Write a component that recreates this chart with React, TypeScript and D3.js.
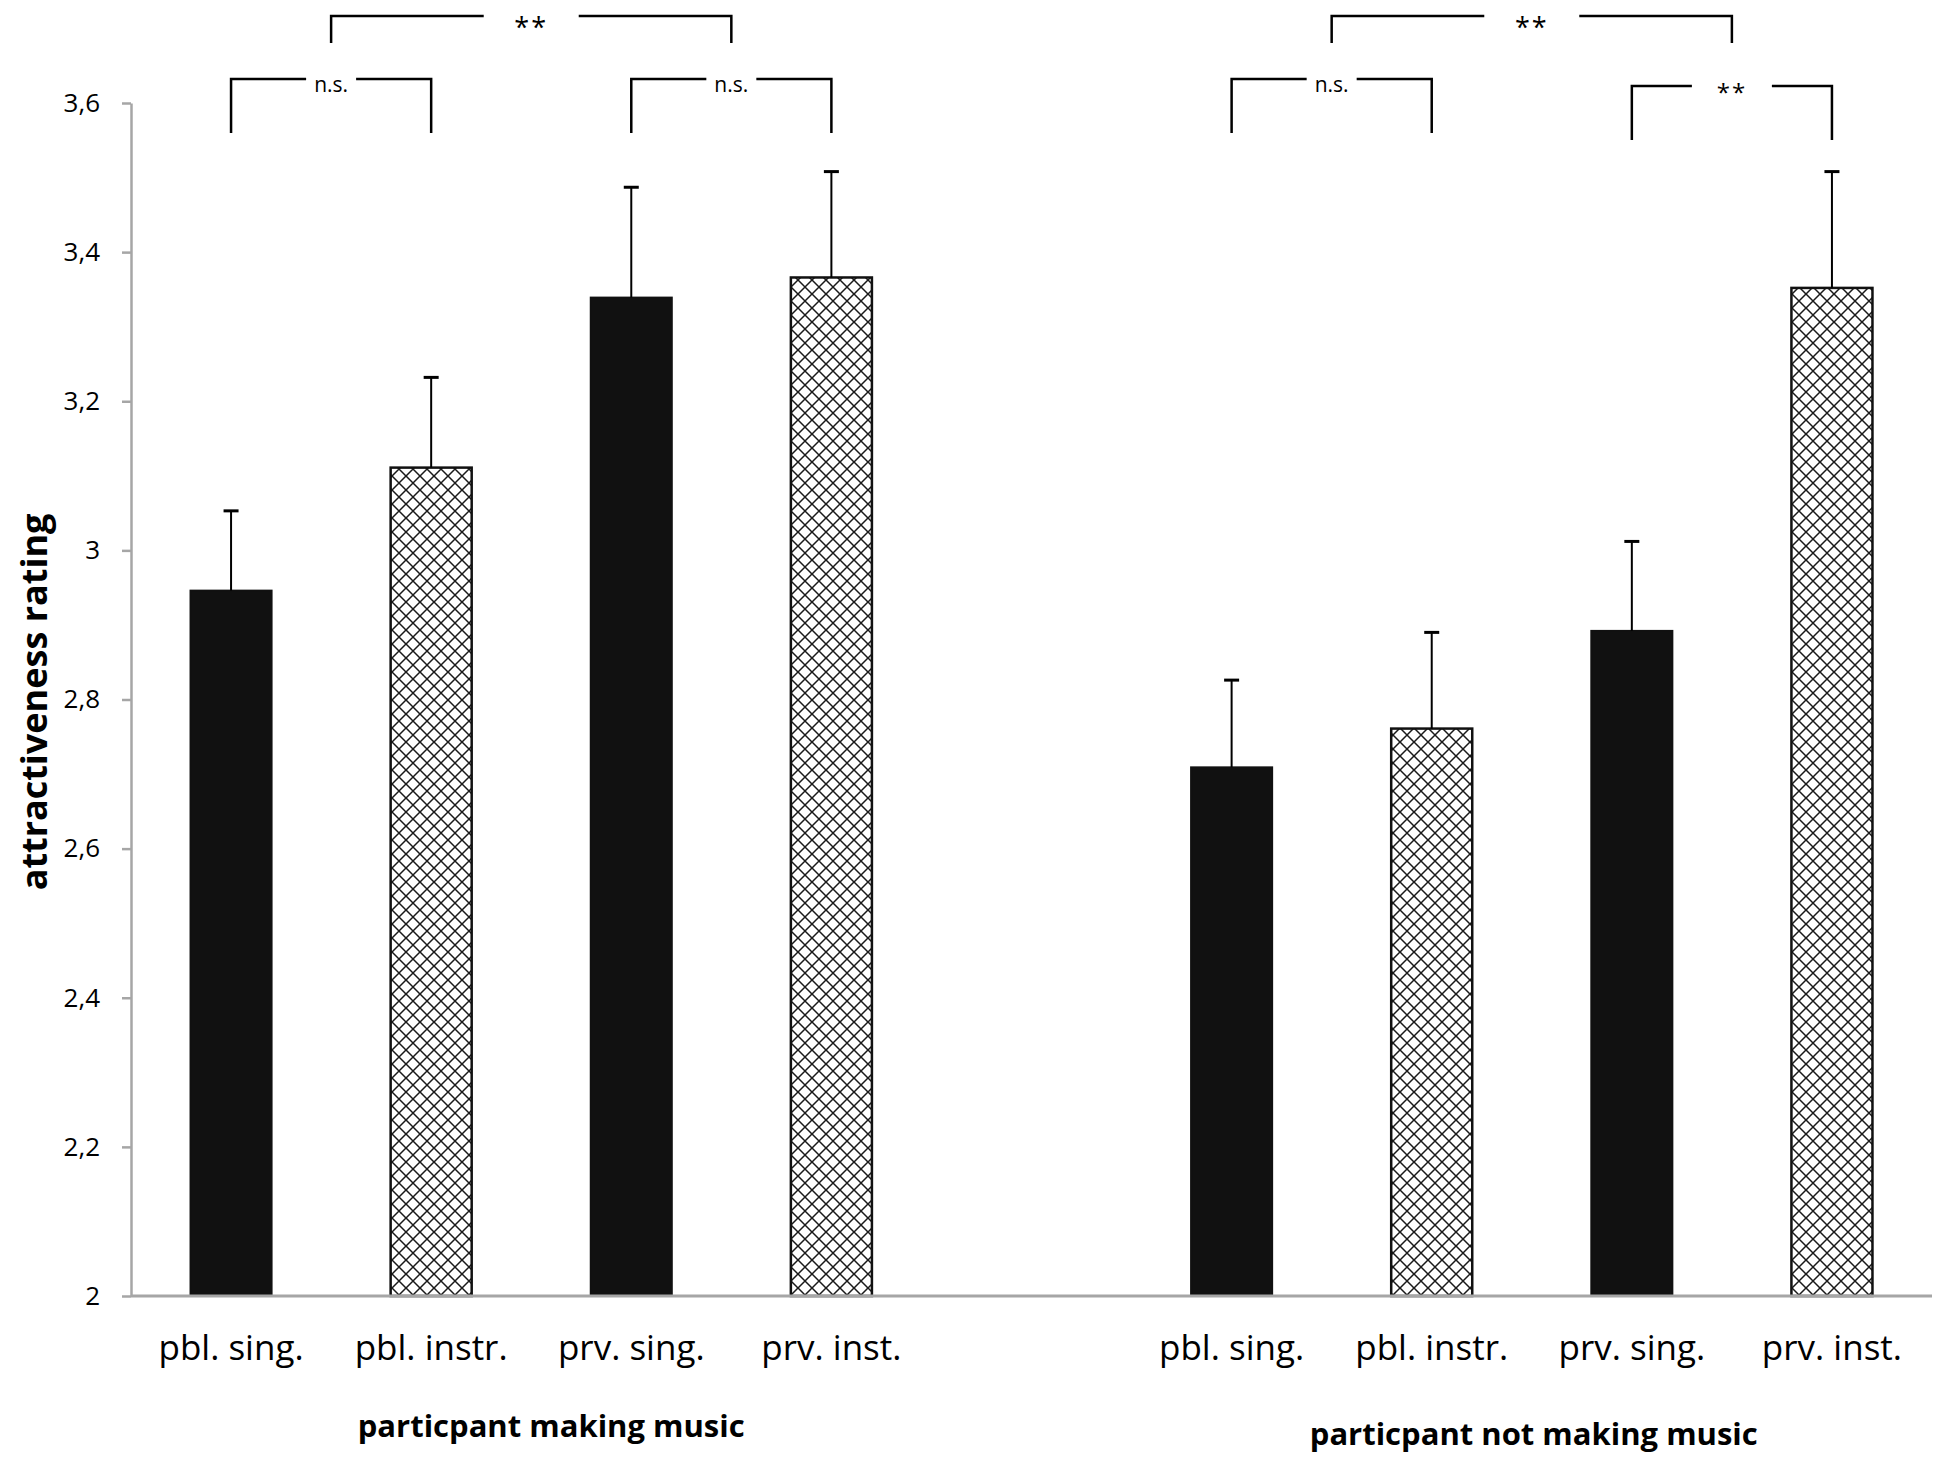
import React, { useEffect, useRef } from 'react';
import * as d3 from 'd3';

const groups = ['particpant making music', 'particpant not making music'];
const categories = ['pbl. sing.', 'pbl. instr.', 'prv. sing.', 'prv. inst.'];
const hatched = [false, true, false, true];

// mean rating per category
const meansMaking = [2.946, 3.111, 3.339, 3.366];
const meansNotMaking = [2.709, 2.761, 2.892, 3.352];

// upper error bar length
const errMaking = [0.107, 0.121, 0.148, 0.142];
const errNotMaking = [0.117, 0.129, 0.12, 0.156];

const yTicks = [2, 2.2, 2.4, 2.6, 2.8, 3, 3.2, 3.4, 3.6];

// significance brackets (a/b are category positions, .5 = between two)
const comparisons = [
  { group: 0, a: 0, b: 1, label: 'n.s.', level: 1 },
  { group: 0, a: 2, b: 3, label: 'n.s.', level: 1 },
  { group: 0, a: 0.5, b: 2.5, label: '**', level: 2 },
  { group: 1, a: 0, b: 1, label: 'n.s.', level: 1 },
  { group: 1, a: 2, b: 3, label: '**', level: 1 },
  { group: 1, a: 0.5, b: 2.5, label: '**', level: 2 },
];

const WIDTH = 1943;
const HEIGHT = 1465;
const margin = { top: 103, right: 11, bottom: 169, left: 131 };
const FONT = "'Open Sans', 'Noto Sans', sans-serif";
const HATCH = 14;

export default function App() {
  const svgRef = useRef<SVGSVGElement>(null);

  useEffect(() => {
    if (!svgRef.current) return;
    const svg = d3.select(svgRef.current);
    svg.selectAll('*').remove();

    const innerBottom = HEIGHT - margin.bottom;
    const innerRight = WIDTH - margin.right;

    // one slot per bar plus an empty slot between the two groups
    const slots: string[] = [];
    groups.forEach((g, gi) => {
      if (gi > 0) slots.push('gap');
      categories.forEach((c, ci) => slots.push(`${gi}-${ci}`));
    });

    const x = d3.scaleBand().domain(slots).range([margin.left, innerRight]).padding(0);
    const y = d3.scaleLinear().domain([2, 3.6]).range([innerBottom, margin.top]);
    const barW = x.bandwidth() * 0.405;
    const center = (gi: number, ci: number) => (x(`${gi}-${ci}`) || 0) + x.bandwidth() / 2;

    const rows = groups.flatMap((g, gi) =>
      categories.map((c, ci) => ({
        gi,
        ci,
        label: c,
        mean: gi === 0 ? meansMaking[ci] : meansNotMaking[ci],
        err: gi === 0 ? errMaking[ci] : errNotMaking[ci],
        hatch: hatched[ci],
      }))
    );

    // hatch pattern
    const defs = svg.append('defs');
    const pat = defs
      .append('pattern')
      .attr('id', 'diamond')
      .attr('patternUnits', 'userSpaceOnUse')
      .attr('width', HATCH)
      .attr('height', HATCH);
    pat.append('rect').attr('width', HATCH).attr('height', HATCH).attr('fill', '#fff');
    pat
      .append('path')
      .attr('d', `M-1,-1L${HATCH + 1},${HATCH + 1}M${HATCH + 1},-1L-1,${HATCH + 1}`)
      .attr('stroke', '#1a1a1a')
      .attr('stroke-width', 1.5)
      .attr('fill', 'none');

    // y axis
    const yAxis = svg
      .append('g')
      .attr('transform', `translate(${margin.left},0)`)
      .call(
        d3
          .axisLeft(y)
          .tickValues(yTicks)
          .tickSize(9)
          .tickSizeOuter(0)
          .tickPadding(22)
          .tickFormat((d) => String(+(+d).toFixed(1)).replace('.', ','))
      );
    yAxis.select('.domain').attr('stroke', '#a6a6a6').attr('stroke-width', 2.5);
    yAxis.selectAll('.tick line').attr('stroke', '#a6a6a6').attr('stroke-width', 2.5);
    yAxis
      .selectAll('.tick text')
      .attr('fill', '#000')
      .style('font-family', FONT)
      .style('font-size', '26px');

    // bars
    svg
      .append('g')
      .selectAll('rect')
      .data(rows)
      .enter()
      .append('rect')
      .attr('x', (d) => center(d.gi, d.ci) - barW / 2)
      .attr('width', barW)
      .attr('y', (d) => y(d.mean))
      .attr('height', (d) => y(2) - y(d.mean))
      .attr('fill', (d) => (d.hatch ? 'url(#diamond)' : '#111'))
      .attr('stroke', '#111')
      .attr('stroke-width', (d) => (d.hatch ? 2.5 : 2));

    // error bars
    const eb = svg.append('g').attr('stroke', '#000');
    eb.selectAll('line.v')
      .data(rows)
      .enter()
      .append('line')
      .attr('class', 'v')
      .attr('x1', (d) => center(d.gi, d.ci))
      .attr('x2', (d) => center(d.gi, d.ci))
      .attr('y1', (d) => y(d.mean))
      .attr('y2', (d) => y(d.mean + d.err))
      .attr('stroke-width', 2);
    eb.selectAll('line.cap')
      .data(rows)
      .enter()
      .append('line')
      .attr('class', 'cap')
      .attr('x1', (d) => center(d.gi, d.ci) - 7.5)
      .attr('x2', (d) => center(d.gi, d.ci) + 7.5)
      .attr('y1', (d) => y(d.mean + d.err))
      .attr('y2', (d) => y(d.mean + d.err))
      .attr('stroke-width', 3);

    // x axis line
    svg
      .append('line')
      .attr('x1', margin.left)
      .attr('x2', innerRight)
      .attr('y1', y(2))
      .attr('y2', y(2))
      .attr('stroke', '#a6a6a6')
      .attr('stroke-width', 3);

    // category labels
    svg
      .append('g')
      .selectAll('text')
      .data(rows)
      .enter()
      .append('text')
      .attr('x', (d) => center(d.gi, d.ci))
      .attr('y', 1360)
      .attr('text-anchor', 'middle')
      .style('font-family', FONT)
      .style('font-size', '35px')
      .text((d) => d.label);

    // group titles
    const titleDx = [20, 2];
    const titleY = [1437, 1445];
    svg
      .append('g')
      .selectAll('text')
      .data(groups)
      .enter()
      .append('text')
      .attr('x', (d, i) => (center(i, 0) + center(i, categories.length - 1)) / 2 + titleDx[i])
      .attr('y', (d, i) => titleY[i])
      .attr('text-anchor', 'middle')
      .style('font-family', FONT)
      .style('font-size', '31px')
      .style('font-weight', 700)
      .text((d) => d);

    // y title
    svg
      .append('text')
      .attr('transform', `translate(47, 702) rotate(-90)`)
      .attr('text-anchor', 'middle')
      .style('font-family', FONT)
      .style('font-size', '36px')
      .style('font-weight', 700)
      .text('attractiveness rating');

    // significance brackets
    const xAt = (gi: number, t: number) => {
      const i = Math.floor(t);
      const f = t - i;
      if (f === 0) return center(gi, i);
      return center(gi, i) + f * (center(gi, i + 1) - center(gi, i));
    };
    const br = svg.append('g');
    comparisons.forEach((c) => {
      const x1 = xAt(c.group, c.a);
      const x2 = xAt(c.group, c.b);
      const mid = (x1 + x2) / 2;
      const drop = c.group === 1 && c.a === 2 ? 7 : 0;
      const top = (c.level === 1 ? y(3.6) - 24 : y(3.6) - 87) + drop;
      const bottom = (c.level === 1 ? y(3.6) + 30 : y(3.6) - 60) + drop;
      const gap = c.label === 'n.s.' ? 50 : c.level === 1 ? 80 : 95;
      br.append('path')
        .attr(
          'd',
          `M${x1},${bottom}V${top}H${mid - gap / 2}M${mid + gap / 2},${top}H${x2}V${bottom}`
        )
        .attr('fill', 'none')
        .attr('stroke', '#000')
        .attr('stroke-width', 2.5);
      br.append('text')
        .attr('x', mid)
        .attr('y', top + (c.level === 1 ? (c.label === 'n.s.' ? 13 : 15) : 21))
        .attr('text-anchor', 'middle')
        .style('font-family', FONT)
        .style('font-size', c.label === 'n.s.' ? '21px' : c.level === 1 ? '24px' : '27px')
        .style('letter-spacing', c.label === 'n.s.' ? '0px' : '2px')
        .text(c.label);
    });
  }, []);

  return (
    <svg
      ref={svgRef}
      width={WIDTH}
      height={HEIGHT}
      viewBox={`0 0 ${WIDTH} ${HEIGHT}`}
      style={{ position: 'absolute', left: 0, top: 0, background: '#fff' }}
    />
  );
}
